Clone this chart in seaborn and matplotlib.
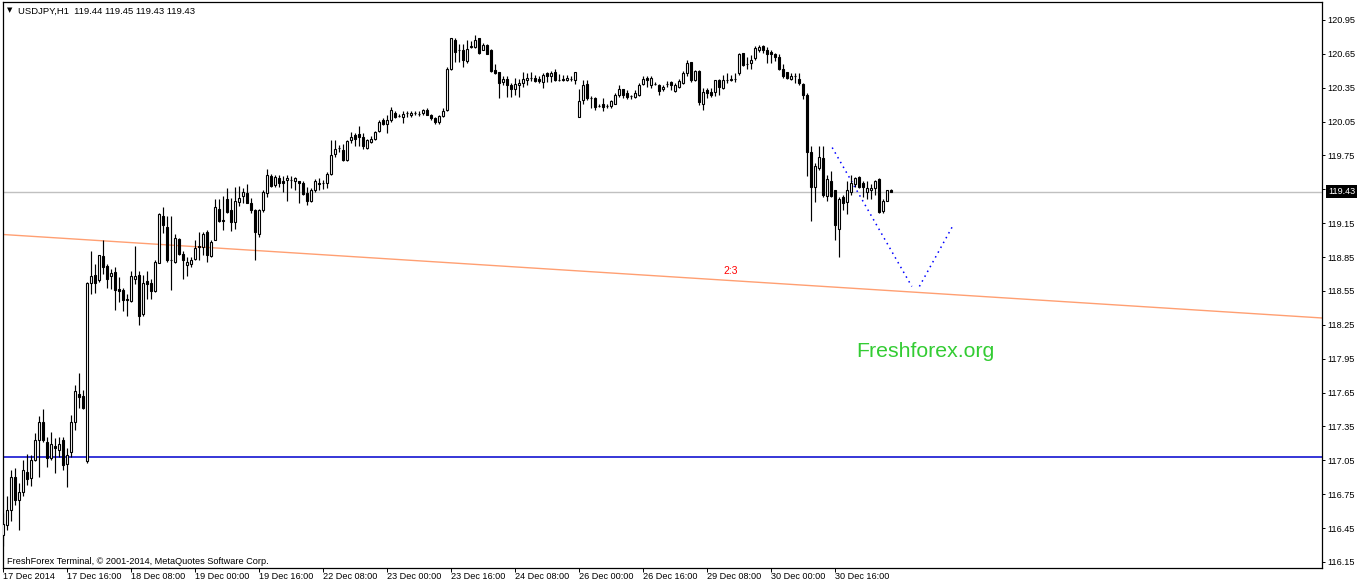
import numpy as np
import pandas as pd
import matplotlib
matplotlib.use("Agg")
import matplotlib.pyplot as plt
import matplotlib.transforms as mtransforms
import seaborn as sns

# ---------------- data (USDJPY, H1) ----------------
opens = [116.39, 116.48, 116.61, 116.90, 116.70, 116.77, 116.95, 116.89, 117.05, 117.23,
         117.39, 117.21, 117.07, 117.18, 117.14, 117.23, 117.02, 117.12, 117.39, 117.64,
         117.62, 117.04, 118.62, 118.69, 118.65, 118.86, 118.77, 118.68, 118.72, 118.57,
         118.56, 118.48, 118.46, 118.66, 118.69, 118.35, 118.64, 118.62, 118.55, 118.80,
         119.21, 119.12, 118.82, 118.81, 119.01, 118.88, 118.78, 118.79, 118.83, 118.95,
         118.94, 119.07, 118.86, 119.00, 119.28, 119.18, 119.36, 119.27, 119.16, 119.34,
         119.39, 119.42, 119.33, 119.27, 119.05, 119.27, 119.42, 119.57, 119.49, 119.55,
         119.52, 119.53, 119.53, 119.52, 119.52, 119.51, 119.42, 119.35, 119.44, 119.51,
         119.51, 119.51, 119.59, 119.76, 119.82, 119.80, 119.71, 119.89, 119.93, 119.94,
         119.91, 119.82, 119.87, 119.90, 119.97, 120.06, 120.03, 120.06, 120.13, 120.10,
         120.09, 120.13, 120.11, 120.13, 120.12, 120.13, 120.15, 120.11, 120.08, 120.05,
         120.10, 120.15, 120.52, 120.77, 120.68, 120.68, 120.59, 120.71, 120.71, 120.79,
         120.68, 120.73, 120.68, 120.51, 120.49, 120.40, 120.43, 120.37, 120.34, 120.37,
         120.39, 120.42, 120.44, 120.44, 120.43, 120.40, 120.48, 120.45, 120.49, 120.42,
         120.43, 120.42, 120.43, 120.42, 120.09, 120.24, 120.38, 120.26, 120.26, 120.19,
         120.21, 120.19, 120.19, 120.21, 120.29, 120.34, 120.30, 120.28, 120.27, 120.29,
         120.38, 120.44, 120.37, 120.38, 120.37, 120.34, 120.38, 120.40, 120.32, 120.36,
         120.39, 120.48, 120.58, 120.42, 120.50, 120.21, 120.33, 120.31, 120.31, 120.42,
         120.35, 120.42, 120.42, 120.43, 120.48, 120.66, 120.56, 120.57, 120.61, 120.68,
         120.72, 120.68, 120.67, 120.65, 120.62, 120.52, 120.49, 120.43, 120.45, 120.43,
         120.38, 120.29, 119.78, 119.47, 119.64, 119.73, 119.39, 119.52, 119.44, 119.10,
         119.38, 119.34, 119.43, 119.50, 119.56, 119.51, 119.43, 119.44, 119.46, 119.54,
         119.26, 119.35, 119.44]
highs = [116.58, 116.73, 116.96, 116.98, 116.85, 117.05, 117.11, 117.10, 117.29, 117.44,
         117.50, 117.26, 117.30, 117.25, 117.26, 117.26, 117.16, 117.45, 117.72, 117.82,
         117.67, 118.63, 118.90, 118.79, 118.87, 119.00, 118.79, 118.74, 118.76, 118.67,
         118.58, 118.52, 118.73, 118.95, 118.73, 118.69, 118.73, 118.66, 118.82, 119.24,
         119.29, 119.21, 119.21, 119.05, 119.02, 118.90, 118.85, 118.85, 119.00, 119.07,
         119.07, 119.09, 119.00, 119.36, 119.36, 119.39, 119.46, 119.37, 119.47, 119.48,
         119.46, 119.50, 119.37, 119.28, 119.28, 119.44, 119.63, 119.59, 119.58, 119.58,
         119.57, 119.58, 119.57, 119.56, 119.52, 119.52, 119.47, 119.46, 119.54, 119.55,
         119.53, 119.60, 119.89, 119.89, 119.84, 119.85, 119.89, 119.96, 119.95, 120.01,
         119.95, 119.90, 119.92, 119.97, 120.06, 120.08, 120.11, 120.18, 120.14, 120.12,
         120.14, 120.14, 120.14, 120.14, 120.14, 120.16, 120.17, 120.12, 120.09, 120.11,
         120.17, 120.53, 120.79, 120.79, 120.74, 120.74, 120.77, 120.76, 120.82, 120.79,
         120.75, 120.74, 120.69, 120.56, 120.49, 120.45, 120.45, 120.39, 120.44, 120.43,
         120.49, 120.48, 120.49, 120.46, 120.45, 120.48, 120.49, 120.50, 120.52, 120.47,
         120.46, 120.46, 120.45, 120.49, 120.34, 120.42, 120.42, 120.28, 120.27, 120.21,
         120.26, 120.21, 120.24, 120.30, 120.37, 120.34, 120.33, 120.29, 120.33, 120.39,
         120.45, 120.45, 120.45, 120.40, 120.38, 120.37, 120.41, 120.41, 120.39, 120.43,
         120.50, 120.60, 120.58, 120.51, 120.51, 120.35, 120.35, 120.35, 120.42, 120.43,
         120.46, 120.48, 120.46, 120.48, 120.66, 120.66, 120.62, 120.64, 120.72, 120.73,
         120.73, 120.71, 120.68, 120.66, 120.65, 120.56, 120.49, 120.48, 120.48, 120.48,
         120.39, 120.30, 119.83, 119.68, 119.83, 119.83, 119.58, 119.61, 119.44, 119.38,
         119.40, 119.52, 119.58, 119.56, 119.57, 119.52, 119.52, 119.50, 119.53, 119.55,
         119.36, 119.44, 119.45]
lows = [116.29, 116.43, 116.51, 116.65, 116.43, 116.73, 116.83, 116.82, 117.04, 116.90,
        117.21, 116.99, 117.05, 116.94, 117.08, 116.96, 116.81, 117.08, 117.32, 117.51,
        117.50, 117.03, 118.52, 118.53, 118.63, 118.70, 118.58, 118.57, 118.38, 118.45,
        118.37, 118.33, 118.45, 118.61, 118.25, 118.33, 118.48, 118.48, 118.54, 118.80,
        119.06, 118.81, 118.56, 118.80, 118.87, 118.66, 118.68, 118.76, 118.82, 118.82,
        118.87, 118.81, 118.85, 119.00, 119.16, 119.09, 119.24, 119.08, 119.10, 119.30,
        119.33, 119.33, 119.24, 118.82, 119.03, 119.25, 119.38, 119.47, 119.47, 119.47,
        119.43, 119.35, 119.46, 119.44, 119.33, 119.40, 119.31, 119.34, 119.43, 119.44,
        119.45, 119.46, 119.58, 119.74, 119.78, 119.70, 119.70, 119.86, 119.83, 119.83,
        119.81, 119.81, 119.86, 119.89, 119.96, 120.02, 119.95, 120.05, 120.08, 120.09,
        120.04, 120.09, 120.09, 120.11, 120.10, 120.11, 120.11, 120.06, 120.03, 120.03,
        120.09, 120.14, 120.51, 120.58, 120.58, 120.53, 120.57, 120.70, 120.70, 120.65,
        120.68, 120.65, 120.49, 120.47, 120.26, 120.37, 120.27, 120.27, 120.29, 120.27,
        120.36, 120.37, 120.41, 120.40, 120.39, 120.35, 120.40, 120.40, 120.41, 120.41,
        120.41, 120.41, 120.41, 120.38, 120.09, 120.21, 120.24, 120.17, 120.15, 120.18,
        120.14, 120.17, 120.17, 120.21, 120.27, 120.26, 120.25, 120.25, 120.26, 120.28,
        120.37, 120.36, 120.35, 120.37, 120.29, 120.32, 120.36, 120.33, 120.31, 120.35,
        120.38, 120.45, 120.40, 120.41, 120.20, 120.15, 120.26, 120.27, 120.28, 120.29,
        120.34, 120.39, 120.41, 120.40, 120.46, 120.54, 120.52, 120.52, 120.60, 120.67,
        120.66, 120.57, 120.57, 120.59, 120.51, 120.44, 120.43, 120.42, 120.39, 120.37,
        120.25, 119.57, 119.17, 119.34, 119.62, 119.38, 119.35, 119.38, 119.00, 118.85,
        119.27, 119.23, 119.40, 119.47, 119.46, 119.38, 119.36, 119.36, 119.40, 119.24,
        119.24, 119.35, 119.43]
closes = [116.49, 116.61, 116.90, 116.70, 116.77, 116.96, 116.88, 117.05, 117.23, 117.39,
          117.23, 117.07, 117.19, 117.16, 117.19, 117.01, 117.10, 117.39, 117.66, 117.61,
          117.51, 118.62, 118.68, 118.62, 118.87, 118.76, 118.66, 118.71, 118.56, 118.55,
          118.47, 118.47, 118.68, 118.68, 118.33, 118.62, 118.61, 118.55, 118.81, 119.23,
          119.13, 118.82, 118.82, 119.02, 118.88, 118.82, 118.81, 118.82, 118.93, 118.94,
          119.05, 118.87, 118.98, 119.29, 119.17, 119.17, 119.25, 119.16, 119.35, 119.37,
          119.43, 119.33, 119.27, 119.07, 119.27, 119.43, 119.58, 119.48, 119.56, 119.51,
          119.51, 119.55, 119.53, 119.55, 119.51, 119.41, 119.35, 119.44, 119.52, 119.50,
          119.51, 119.59, 119.75, 119.81, 119.82, 119.71, 119.88, 119.91, 119.90, 119.91,
          119.83, 119.89, 119.90, 119.96, 120.05, 120.03, 120.06, 120.15, 120.09, 120.10,
          120.12, 120.13, 120.13, 120.13, 120.12, 120.15, 120.11, 120.08, 120.05, 120.10,
          120.14, 120.52, 120.79, 120.67, 120.68, 120.60, 120.69, 120.72, 120.77, 120.66,
          120.73, 120.65, 120.50, 120.48, 120.39, 120.43, 120.37, 120.34, 120.38, 120.39,
          120.43, 120.44, 120.44, 120.41, 120.41, 120.46, 120.45, 120.48, 120.42, 120.42,
          120.42, 120.44, 120.43, 120.49, 120.23, 120.37, 120.26, 120.26, 120.18, 120.19,
          120.18, 120.19, 120.23, 120.29, 120.34, 120.29, 120.27, 120.28, 120.30, 120.37,
          120.43, 120.42, 120.44, 120.38, 120.32, 120.36, 120.38, 120.37, 120.37, 120.41,
          120.48, 120.57, 120.42, 120.50, 120.22, 120.31, 120.30, 120.29, 120.42, 120.36,
          120.42, 120.42, 120.43, 120.43, 120.65, 120.55, 120.56, 120.60, 120.70, 120.71,
          120.68, 120.65, 120.65, 120.62, 120.52, 120.45, 120.44, 120.45, 120.45, 120.39,
          120.29, 119.78, 119.47, 119.66, 119.74, 119.40, 119.54, 119.39, 119.13, 119.36,
          119.33, 119.44, 119.51, 119.55, 119.47, 119.47, 119.46, 119.46, 119.52, 119.25,
          119.35, 119.44, 119.43]

time_labels = ["17 Dec 2014", "17 Dec 16:00", "18 Dec 08:00", "19 Dec 00:00",
               "19 Dec 16:00", "22 Dec 08:00", "23 Dec 00:00", "23 Dec 16:00",
               "24 Dec 08:00", "26 Dec 00:00", "26 Dec 16:00", "29 Dec 08:00",
               "30 Dec 00:00", "30 Dec 16:00"]
time_label_bars = [0, 16, 32, 48, 64, 80, 96, 112, 128, 144, 160, 176, 192, 208]
price_ticks = [116.15, 116.45, 116.75, 117.05, 117.35, 117.65, 117.95, 118.25,
               118.55, 118.85, 119.15, 119.45, 119.75, 120.05, 120.35, 120.65, 120.95]
price_tick_labels = ["116.15", "116.45", "116.75", "117.05", "117.35", "117.65",
                     "117.95", "118.25", "118.55", "118.85", "119.15", "119.45",
                     "119.75", "120.05", "120.35", "120.65", "120.95"]
last_price = 119.43
support_level = 117.08
trend_bars = [0, 330]
trend_prices = [119.05, 118.31]
zig_down_bars = [207.3, 227.2]
zig_down_prices = [119.82, 118.59]
zig_up_bars = [229.1, 237.5]
zig_up_prices = [118.59, 119.13]
trend_label_bar = 182
trend_label_price = 118.73

df = pd.DataFrame({"bar": np.arange(len(opens)), "open": opens, "high": highs,
                   "low": lows, "close": closes})

# ---------------- style ----------------
sns.set_style("white")
plt.rcParams["font.family"] = ["Liberation Sans", "DejaVu Sans"]
plt.rcParams["text.color"] = "black"
plt.rcParams["xtick.color"] = "black"
plt.rcParams["ytick.color"] = "black"
plt.rcParams["axes.edgecolor"] = "black"

fig = plt.figure(figsize=(13.62, 5.86), dpi=100)
fig.patch.set_facecolor("white")
ax = fig.add_axes([2.5 / 1362, 18 / 586, 1319.5 / 1362, 566.3 / 586])
ax.set_facecolor("white")

# horizontal levels
ax.axhline(last_price, color="#c0c0c0", lw=1.0, zorder=1)
ax.axhline(support_level, color="#0000cd", lw=1.1, zorder=1)

# trend line and projection
sns.lineplot(x=trend_bars, y=trend_prices, ax=ax, color="#ff9f72", lw=1.0, zorder=2)
sns.lineplot(x=zig_down_bars, y=zig_down_prices, ax=ax, color="#0000ff",
             lw=1.1, linestyle=(0, (1, 2.6)), zorder=2)
sns.lineplot(x=zig_up_bars, y=zig_up_prices, ax=ax, color="#0000ff",
             lw=1.1, linestyle=(0, (1, 2.6)), zorder=2)

# candlesticks
up = df["close"] >= df["open"]
ax.vlines(df["bar"], df["low"], df["high"], color="black", lw=0.85, zorder=3)
body_bottom = np.minimum(df["open"], df["close"])
body_height = (df["close"] - df["open"]).abs()
ax.bar(df["bar"], body_height, bottom=body_bottom, width=0.6,
       color=np.where(up, "white", "black"), edgecolor="black",
       linewidth=0.8, zorder=4)

ax.set_xlim(-0.125, 329.75)
ax.set_ylim(116.096, 121.112)
ax.set_xlabel("")
ax.set_ylabel("")
ax.grid(False)

for s in ax.spines.values():
    s.set_visible(True)
    s.set_color("black")
    s.set_linewidth(0.9)

# axes ticks
ax.set_xticks(time_label_bars)
ax.set_xticklabels(time_labels, ha="left", fontsize=6.6)
ax.tick_params(axis="x", bottom=True, direction="out", length=3.2, width=0.7, pad=-0.3)
ax.yaxis.tick_right()
ax.set_yticks(price_ticks)
ax.set_yticklabels(price_tick_labels, fontsize=6.6)
ax.tick_params(axis="y", right=True, left=False, labelright=True, labelleft=False,
               direction="out", length=2.2, width=0.7, pad=2.0)

# current price box
tr = mtransforms.blended_transform_factory(ax.transAxes, ax.transData)
ax.text(1.0 + 6 / 1319.5, last_price, f"{last_price:.2f}", transform=tr,
        fontsize=6.6, color="white", ha="left", va="center",
        bbox=dict(facecolor="black", edgecolor="none", pad=1.3), zorder=10,
        clip_on=False)

# annotations
ax.text(trend_label_bar, trend_label_price, "2:3", color="#ff0000",
        fontsize=7.5, ha="center", va="center", zorder=5)
ax.text((856 - 2.5) / 1319.5, (568 - 357.3) / 566.3, "Freshforex.org",
        transform=ax.transAxes, color="#33cc33", fontsize=15.3,
        ha="left", va="baseline", zorder=5)
ax.text(4.0 / 1319.5, (568 - 10.5) / 566.3, "\u25bc", transform=ax.transAxes,
        fontsize=5, family=["DejaVu Sans"], ha="left", va="center", color="black")
ax.text((18 - 2.5) / 1319.5, (568 - 14) / 566.3,
        "USDJPY,H1  119.44 119.45 119.43 119.43", transform=ax.transAxes,
        fontsize=6.8, ha="left", va="baseline", color="black")
ax.text((7 - 2.5) / 1319.5, (568 - 564) / 566.3,
        "FreshForex Terminal, \u00a9 2001-2014, MetaQuotes Software Corp.",
        transform=ax.transAxes, fontsize=6.6, ha="left", va="baseline", color="black")

fig.savefig("out.png", dpi=100, facecolor="white")
